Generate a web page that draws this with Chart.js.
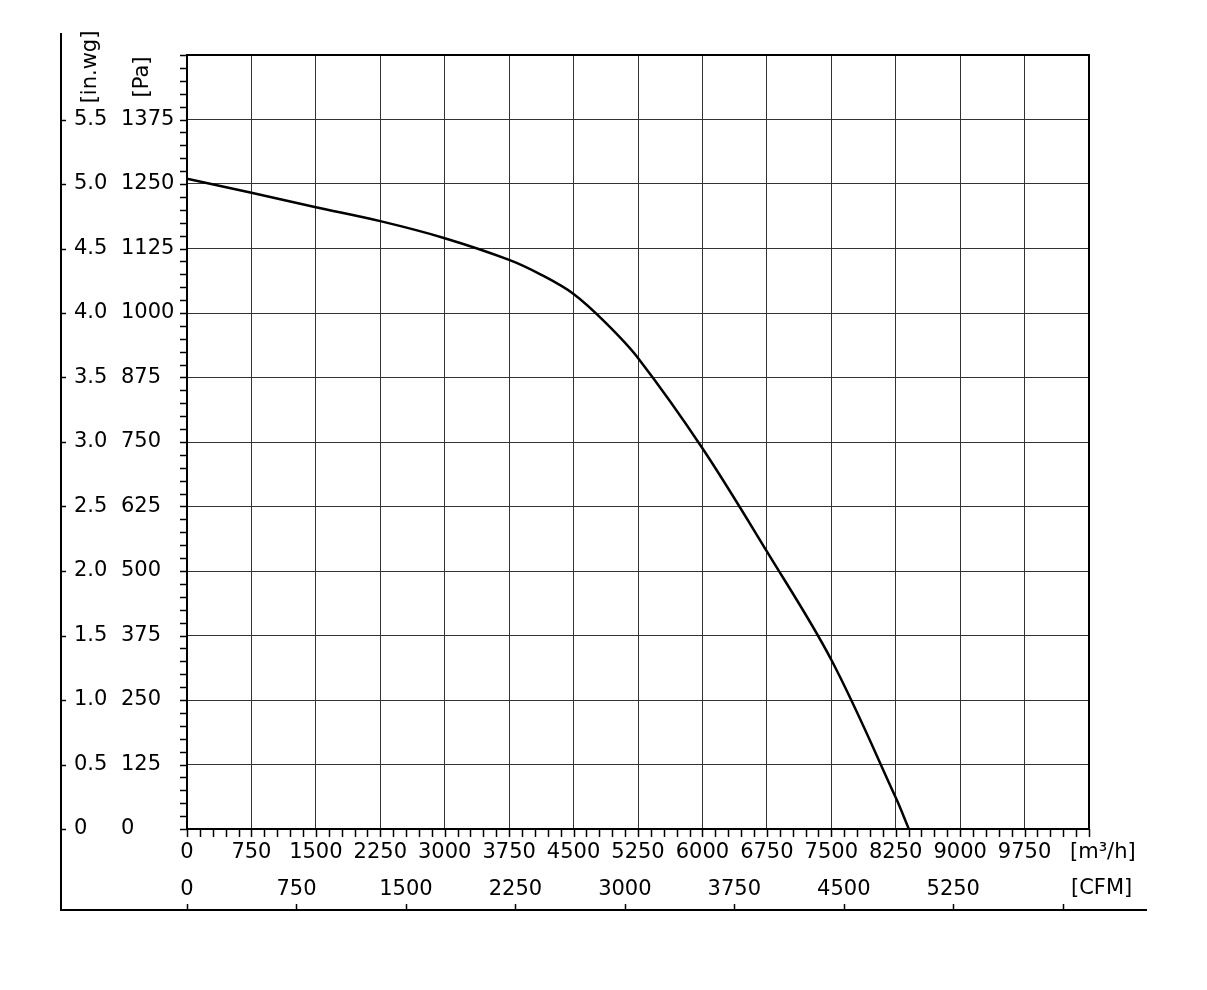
<!DOCTYPE html>
<html lang="en">
<head>
    <meta charset="UTF-8">
    <title>Fan curve</title>
    <script src="https://cdn.jsdelivr.net/npm/chart.js"></script>
    <style>
        html, body {
            margin: 0;
            padding: 0;
            background: #fff;
        }
        .chart-box {
            width: 1207px;
            height: 990px;
            position: relative;
        }
    </style>
</head>
<body>
    <div class="chart-box">
        <canvas id="fanChart"></canvas>
    </div>

    <script>
        // curve: air flow [m3/h] vs static pressure [Pa]
        const flowM3h = [0, 750, 1500, 2250, 3000, 3750, 4125, 4500, 4875, 5250, 6000, 6750, 7500, 8250, 8403];
        const pressurePa = [1260, 1233, 1205, 1178, 1145, 1103, 1074, 1037, 981, 913, 738, 538, 328, 61, 0];

        const flowTicks = [0, 750, 1500, 2250, 3000, 3750, 4500, 5250, 6000, 6750, 7500, 8250, 9000, 9750];
        const cfmTicks = [0, 750, 1500, 2250, 3000, 3750, 4500, 5250, 6000];
        const cfmLabels = ['0', '750', '1500', '2250', '3000', '3750', '4500', '5250', ''];
        const paTicks = [0, 125, 250, 375, 500, 625, 750, 875, 1000, 1125, 1250, 1375];
        const inwgLabels = ['0', '0.5', '1.0', '1.5', '2.0', '2.5', '3.0', '3.5', '4.0', '4.5', '5.0', '5.5'];

        const M3H_PER_CFM = 1.699;
        const FONT = '21px "DejaVu Sans", Verdana, sans-serif';

        const axesPlugin = {
            id: 'fanAxes',
            afterDraw(chart) {
                const ctx = chart.ctx;
                const area = chart.chartArea;
                const xs = chart.scales.x;
                const ys = chart.scales.y;
                ctx.save();
                ctx.strokeStyle = '#000';
                ctx.fillStyle = '#000';

                // plot frame
                ctx.lineWidth = 2;
                ctx.strokeRect(area.left, area.top, area.right - area.left, area.bottom - area.top);

                // minor ticks
                ctx.lineWidth = 1.5;
                ctx.beginPath();
                for (let p = 0; p <= 1500; p += 25) {
                    const y = Math.round(ys.getPixelForValue(p)) + 0.5;
                    ctx.moveTo(area.left - 7, y);
                    ctx.lineTo(area.left, y);
                }
                for (let q = 0; q <= 10500; q += 150) {
                    const x = Math.round(xs.getPixelForValue(q)) + 0.5;
                    ctx.moveTo(x, area.bottom);
                    ctx.lineTo(x, area.bottom + 8);
                }
                ctx.stroke();

                // outer frame lines
                const outerLeft = 61;
                const outerBottom = 910;
                ctx.lineWidth = 2;
                ctx.beginPath();
                ctx.moveTo(outerLeft, 33);
                ctx.lineTo(outerLeft, outerBottom);
                ctx.lineTo(1147, outerBottom);
                ctx.stroke();

                ctx.lineWidth = 1.5;
                ctx.beginPath();
                paTicks.forEach(p => {
                    const y = Math.round(ys.getPixelForValue(p)) + 0.5;
                    ctx.moveTo(outerLeft, y);
                    ctx.lineTo(outerLeft + 5, y);
                });
                cfmTicks.forEach(c => {
                    const x = Math.round(xs.getPixelForValue(c * M3H_PER_CFM)) + 0.5;
                    ctx.moveTo(x, outerBottom);
                    ctx.lineTo(x, outerBottom - 6);
                });
                ctx.stroke();

                // y labels
                ctx.font = FONT;
                ctx.textBaseline = 'middle';
                ctx.textAlign = 'left';
                paTicks.forEach((p, i) => {
                    const y = ys.getPixelForValue(p);
                    ctx.fillText(inwgLabels[i], 74, y);
                    ctx.fillText(String(p), 121, y);
                });

                // x labels
                ctx.textAlign = 'center';
                flowTicks.forEach(q => {
                    ctx.fillText(String(q), xs.getPixelForValue(q), 853);
                });
                cfmTicks.forEach((c, i) => {
                    ctx.fillText(cfmLabels[i], xs.getPixelForValue(c * M3H_PER_CFM), 890);
                });

                // units
                ctx.textAlign = 'left';
                ctx.fillText('[m³/h]', 1070, 853);
                ctx.fillText('[CFM]', 1071, 889);

                ctx.textAlign = 'center';
                ctx.save();
                ctx.translate(91, 67);
                ctx.rotate(-Math.PI / 2);
                ctx.fillText('[in.wg]', 0, 0);
                ctx.restore();
                ctx.save();
                ctx.translate(143, 77);
                ctx.rotate(-Math.PI / 2);
                ctx.fillText('[Pa]', 0, 0);
                ctx.restore();

                ctx.restore();
            }
        };

        const ctx = document.getElementById('fanChart').getContext('2d');
        const fanChart = new Chart(ctx, {
            type: 'line',
            data: {
                datasets: [{
                    label: 'Static pressure',
                    data: flowM3h.map((q, i) => ({ x: q, y: pressurePa[i] })),
                    borderColor: '#000',
                    borderWidth: 2.5,
                    pointRadius: 0,
                    fill: false,
                    tension: 0.35
                }]
            },
            options: {
                responsive: true,
                maintainAspectRatio: false,
                animation: false,
                layout: {
                    padding: { left: 187, top: 55, right: 118, bottom: 161 }
                },
                plugins: {
                    legend: { display: false },
                    tooltip: { enabled: false }
                },
                scales: {
                    x: {
                        type: 'linear',
                        min: 0,
                        max: 10500,
                        ticks: { display: false, stepSize: 750 },
                        grid: { color: '#333', lineWidth: 1, drawTicks: false },
                        border: { display: false },
                        afterFit(scale) { scale.height = 0; }
                    },
                    y: {
                        type: 'linear',
                        min: 0,
                        max: 1500,
                        ticks: { display: false, stepSize: 125 },
                        grid: { color: '#333', lineWidth: 1, drawTicks: false },
                        border: { display: false },
                        afterFit(scale) { scale.width = 0; }
                    }
                }
            },
            plugins: [axesPlugin]
        });
    </script>
</body>
</html>
